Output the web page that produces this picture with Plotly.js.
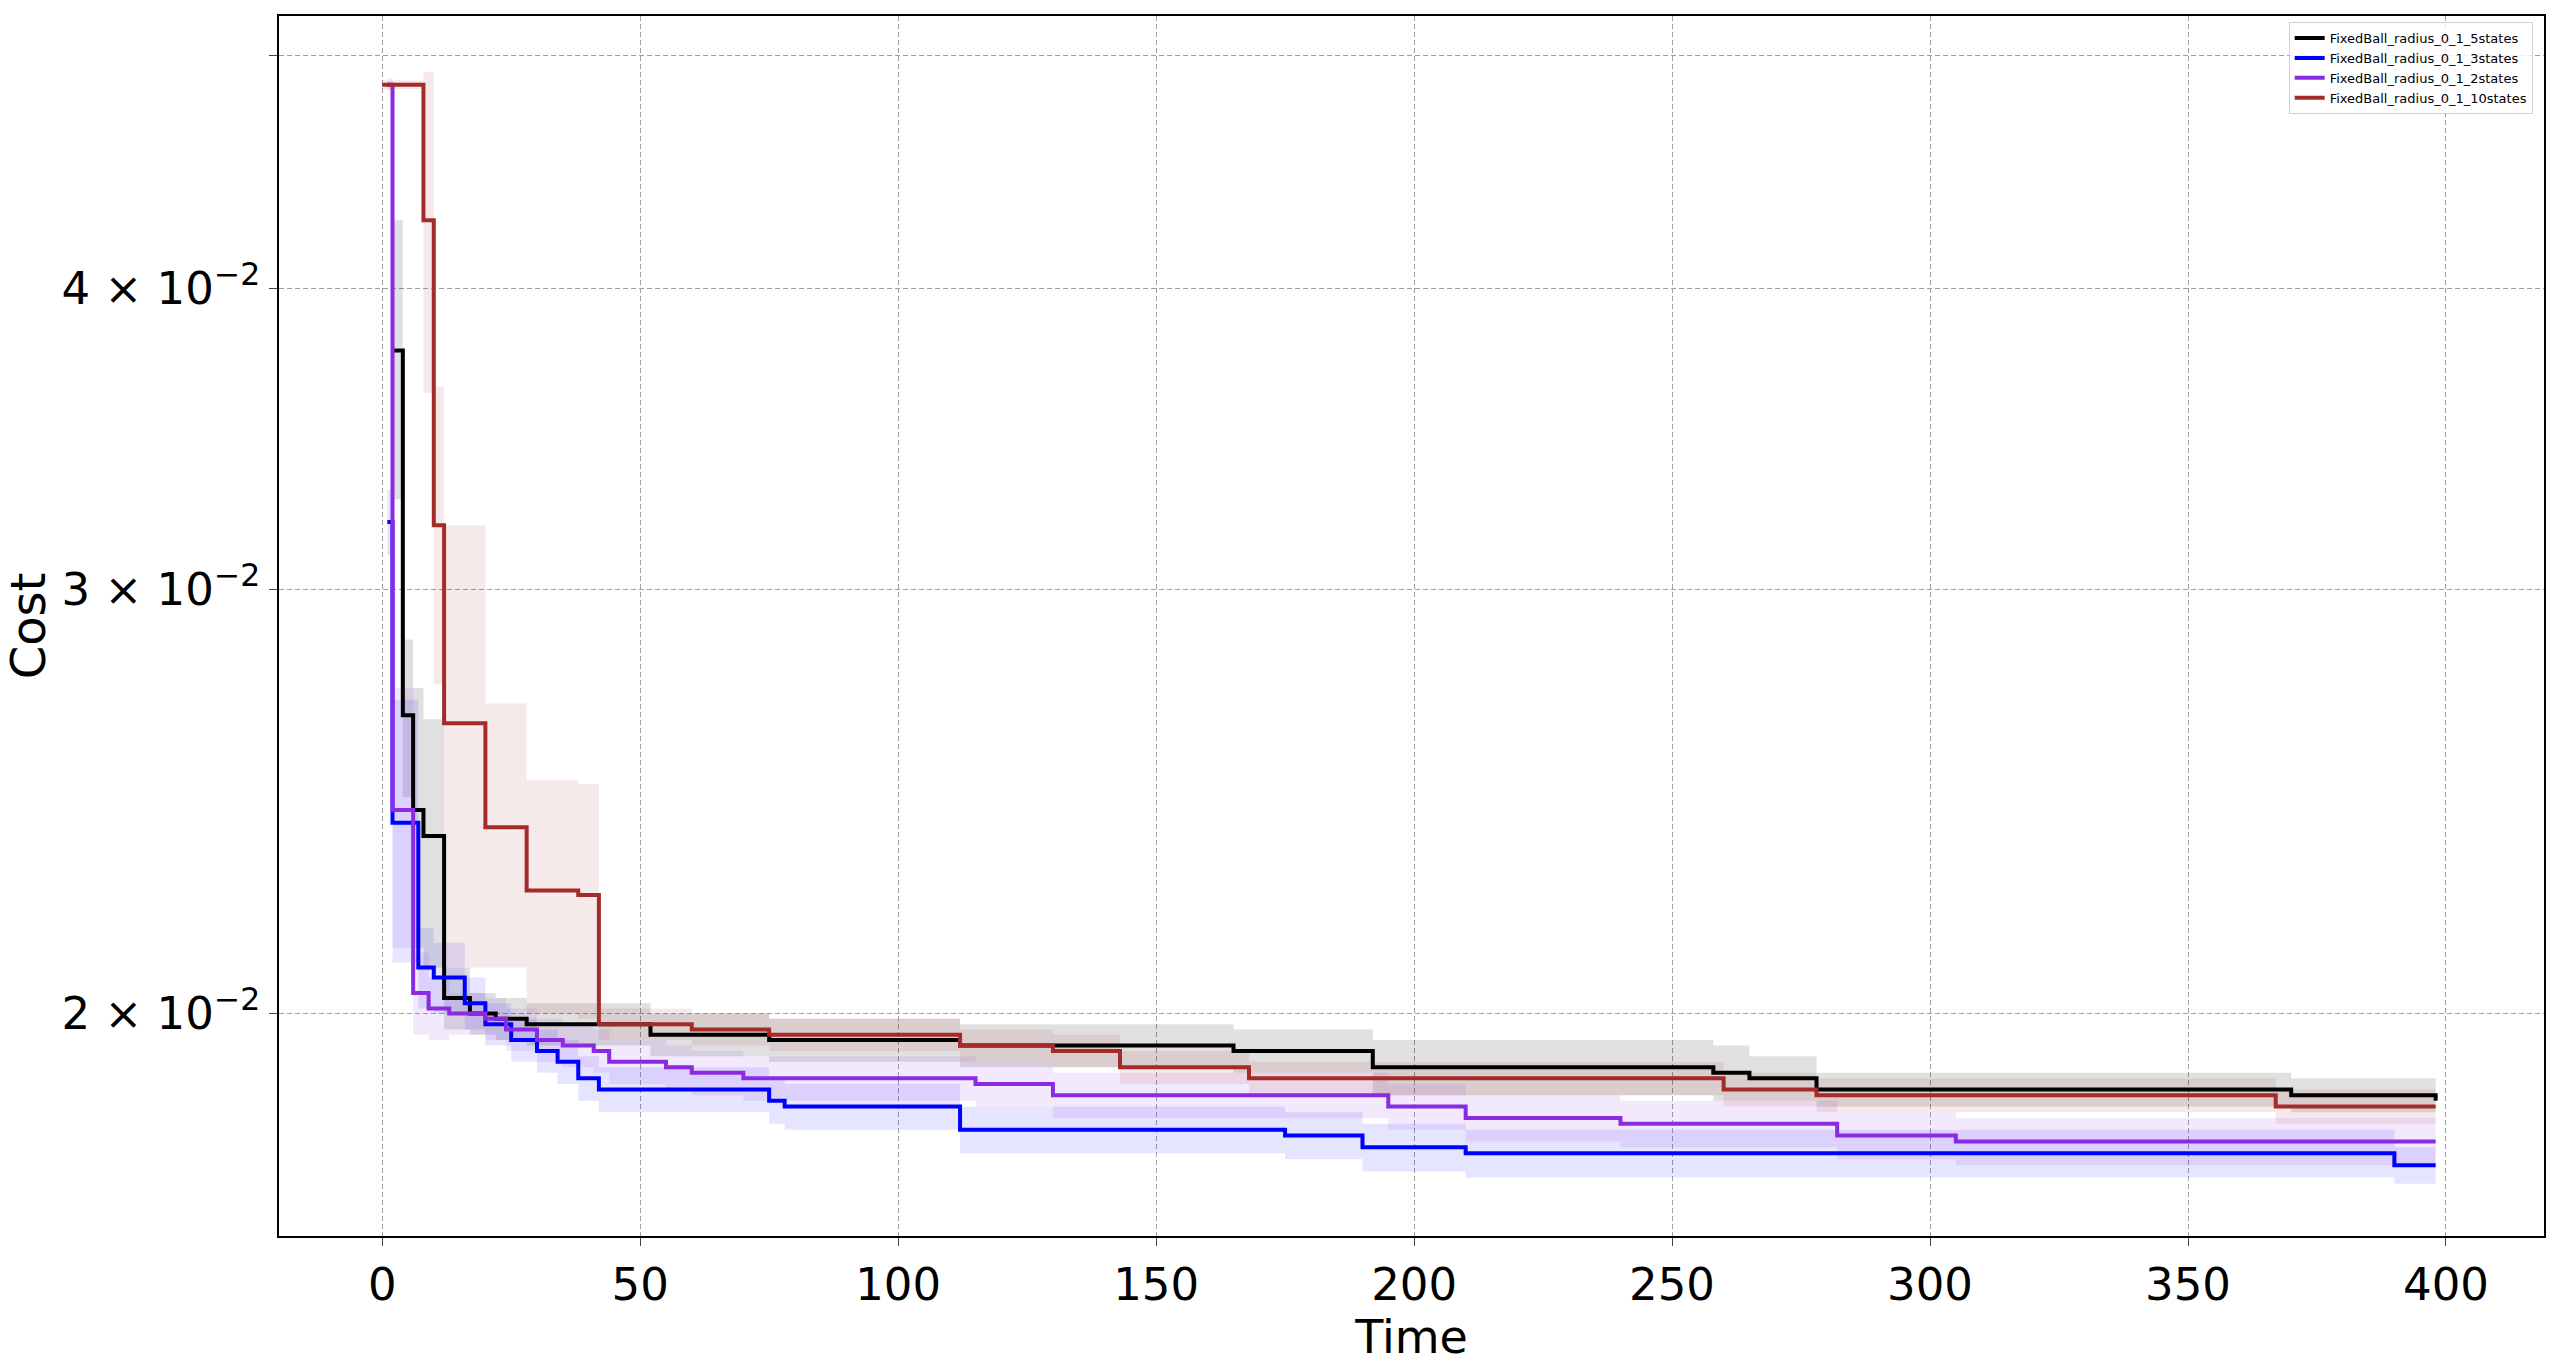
<!DOCTYPE html>
<html>
<head>
<meta charset="utf-8">
<script src="https://cdn.plot.ly/plotly-3.0.1.min.js"></script>
<style>body{margin:0;background:#fff}#myDiv{width:2560px;height:1364px}</style>
</head>
<body>
<div id="myDiv"></div>
<script>
// datos (escalones)
const names = ["FixedBall_radius_0_1_5states", "FixedBall_radius_0_1_3states", "FixedBall_radius_0_1_2states", "FixedBall_radius_0_1_10states"];
const colors = ["#000000", "#0000ff", "#8a2be2", "#a52a2a"];
const bandColors = ["rgba(0,0,0,0.12)", "rgba(0,0,255,0.10)", "rgba(138,43,226,0.10)", "rgba(165,42,42,0.10)"];

const x5 = [2, 4, 6, 8, 12, 17, 22, 28, 52, 60, 75, 112, 130, 165, 192, 258, 265, 278, 370, 385, 398];
const y5 = [0.0377, 0.0266, 0.0243, 0.0237, 0.0203, 0.0200, 0.0199, 0.0198, 0.0196, 0.0196, 0.0195, 0.0194, 0.0194, 0.0193, 0.0190, 0.0189, 0.0188, 0.0186, 0.0185, 0.0185, 0.0184];
const sd5 = [0.0050, 0.0020, 0.0030, 0.0028, 0.0006, 0.0004, 0.0004, 0.0004, 0.0004, 0.0004, 0.0004, 0.0004, 0.0004, 0.0004, 0.0005, 0.0005, 0.0004, 0.0003, 0.0003, 0.0003, 0.0003];

const x3 = [1, 2, 5, 7, 10, 16, 20, 25, 30, 34, 38, 42, 60, 75, 78, 112, 175, 190, 210, 390, 398];
const y3 = [0.0320, 0.0240, 0.0240, 0.0209, 0.0207, 0.0202, 0.0198, 0.0195, 0.0193, 0.0191, 0.0188, 0.0186, 0.0186, 0.0184, 0.0183, 0.0179, 0.0178, 0.0176, 0.0175, 0.0173, 0.0173];
const sd3 = [0.0010, 0.0030, 0.0030, 0.0008, 0.0007, 0.0005, 0.0004, 0.0004, 0.0004, 0.0004, 0.0004, 0.0004, 0.0004, 0.0004, 0.0004, 0.0004, 0.0004, 0.0004, 0.0004, 0.0003, 0.0003];

const x2 = [1, 2, 6, 9, 13, 20, 24, 30, 35, 41, 44, 55, 60, 70, 115, 130, 195, 210, 240, 282, 305, 398];
const y2 = [0.0486, 0.0243, 0.0204, 0.0201, 0.0200, 0.0199, 0.0197, 0.0195, 0.0194, 0.0193, 0.0191, 0.0190, 0.0189, 0.0188, 0.0187, 0.0185, 0.0183, 0.0181, 0.0180, 0.0178, 0.0177, 0.0177];
const sd2 = [0.0003, 0.0030, 0.0008, 0.0006, 0.0004, 0.0004, 0.0004, 0.0004, 0.0004, 0.0004, 0.0004, 0.0004, 0.0004, 0.0004, 0.0004, 0.0004, 0.0004, 0.0004, 0.0004, 0.0004, 0.0004, 0.0004];

const x10 = [0, 8, 10, 12, 20, 28, 38, 42, 60, 75, 112, 130, 143, 168, 190, 260, 278, 367, 398];
const y10 = [0.0486, 0.0427, 0.0319, 0.0264, 0.0239, 0.0225, 0.0224, 0.0198, 0.0197, 0.0196, 0.0194, 0.0193, 0.0190, 0.0188, 0.0188, 0.0186, 0.0185, 0.0183, 0.0183];
const sd10 = [0.0002, 0.0065, 0.0045, 0.0055, 0.0030, 0.0025, 0.0025, 0.0003, 0.0003, 0.0003, 0.0003, 0.0003, 0.0003, 0.0003, 0.0003, 0.0003, 0.0003, 0.0003, 0.0003];

const series = [[x5, y5, sd5], [x3, y3, sd3], [x2, y2, sd2], [x10, y10, sd10]];

// Cinta de desviacion
var data = [];
series.forEach(function (s, i) {
    data.push({x: s[0], y: s[1].map((v, k) => v - s[2][k]), mode: 'lines', line: {width: 0, shape: 'hv'}, showlegend: false, hoverinfo: 'skip'});
    data.push({x: s[0], y: s[1].map((v, k) => v + s[2][k]), mode: 'lines', line: {width: 0, shape: 'hv'}, fill: 'tonexty', fillcolor: bandColors[i], showlegend: false, hoverinfo: 'skip'});
});
series.forEach(function (s, i) {
    data.push({x: s[0], y: s[1], mode: 'lines', name: names[i], line: {color: colors[i], width: 4, shape: 'hv'}});
});

var layout = {
    width: 2560, height: 1364,
    paper_bgcolor: '#fff', plot_bgcolor: '#fff',
    margin: {l: 279, r: 16, t: 16, b: 128},
    font: {family: 'DejaVu Sans', color: '#000'},
    showlegend: true,
    legend: {x: 0.995, y: 0.995, xanchor: 'right', yanchor: 'top', traceorder: 'normal', font: {size: 13}, bordercolor: '#d0d0d0', borderwidth: 1, bgcolor: 'rgba(255,255,255,0.8)', tracegroupgap: 0},
    xaxis: {
        range: [-20, 419], tickvals: [0, 50, 100, 150, 200, 250, 300, 350, 400],
        tickfont: {size: 45}, ticks: 'outside', ticklen: 8, showline: true, mirror: true, linecolor: '#000', linewidth: 1.5,
        showgrid: true, gridcolor: '#a0a0a0', griddash: '5px,3px', zeroline: false,
        title: {text: 'Time', font: {size: 46}, standoff: 4}
    },
    yaxis: {
        type: 'log', range: [Math.log10(0.01617), Math.log10(0.0519)],
        tickvals: [0.02, 0.03, 0.04, 0.05],
        ticktext: ['2 × 10<sup>−2</sup>', '3 × 10<sup>−2</sup>', '4 × 10<sup>−2</sup>', ''],
        tickfont: {size: 45}, ticks: 'outside', ticklen: 8, showline: true, mirror: true, linecolor: '#000', linewidth: 1.5,
        showgrid: true, gridcolor: '#a0a0a0', griddash: '5px,3px', zeroline: false,
        title: {text: 'Cost', font: {size: 48}, standoff: 16}
    }
};

Plotly.newPlot('myDiv', data, layout, {displayModeBar: false});
</script>
</body>
</html>
